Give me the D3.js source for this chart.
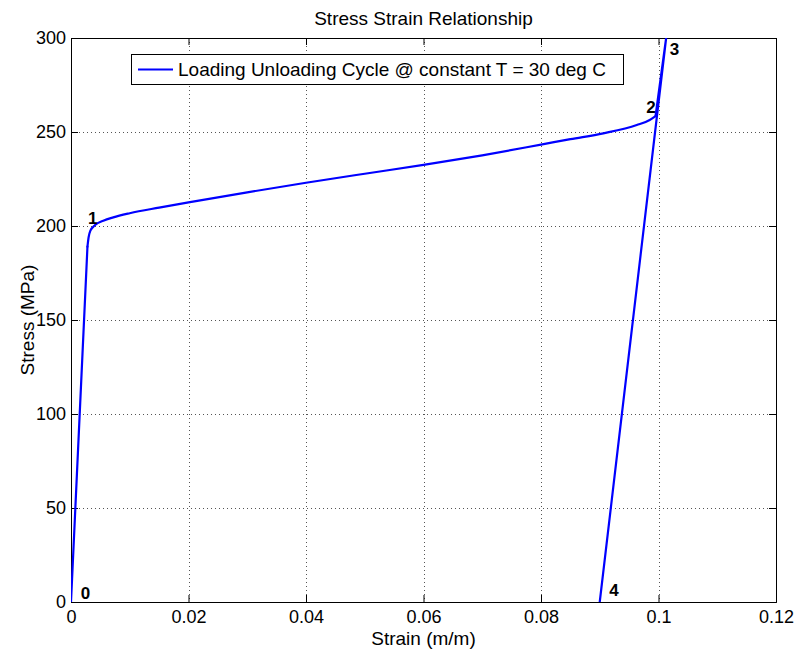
<!DOCTYPE html>
<html>
<head>
<meta charset="utf-8">
<script src="https://cdn.jsdelivr.net/npm/d3@7"></script>
<style>
  body { margin: 0; background: #fff; }
  svg { display: block; font-family: "Liberation Sans", Arial, Helvetica, sans-serif; }
</style>
</head>
<body>
<svg id="chart" width="796" height="654"></svg>
<script>
// elastic loading 0 -> 1 (straight)
const elasticLoadStrain = [0, 0.0028];
const elasticLoadStress = [0, 189];
// plateau 1 -> 2
const plateauStrain = [0.0028, 0.0030, 0.0033, 0.0041, 0.0055, 0.0072, 0.010, 0.015, 0.020, 0.030, 0.040, 0.050, 0.060, 0.070, 0.080, 0.085, 0.0906, 0.0963, 0.0985, 0.0995];
const plateauStress = [189, 194, 197.5, 200.5, 202.8, 204.6, 206.8, 209.8, 212.6, 217.9, 223.0, 227.8, 232.5, 237.6, 243.3, 246.2, 249.3, 253.7, 256.4, 258.5];
// elastic reload 2 -> 3 and unload 3 -> 4
const elasticStrain = [0.0995, 0.1013, 0.0900];
const elasticStress = [258.5, 300, 0];

const pointLabels = ['0', '1', '2', '3', '4'];
const labelStrain = [0.00165, 0.0029, 0.0979, 0.1019, 0.0916];
const labelStress = [4.5, 204, 263, 294, 6];

const xTicks = [0, 0.02, 0.04, 0.06, 0.08, 0.1, 0.12];
const yTicks = [0, 50, 100, 150, 200, 250, 300];

const titleText = 'Stress Strain Relationship';
const xLabel = 'Strain (m/m)';
const yLabel = 'Stress (MPa)';
const legendText = 'Loading Unloading Cycle @ constant T = 30 deg C';

const margin = {left: 71, right: 20, top: 38, bottom: 52};
const width = 796, height = 654;

let svg = d3.select('#chart');

let x = d3.scaleLinear().domain([0, 0.12]).range([margin.left, width - margin.right]);
let y = d3.scaleLinear().domain([0, 300]).range([height - margin.bottom, margin.top]);

const fmt = d => d === 0 ? '0' : String(+d.toFixed(2));

// grid
let grid = svg.append('g')
    .attr('stroke', '#555')
    .attr('stroke-width', 1)
    .attr('stroke-dasharray', '1,3');
grid.selectAll('.gx')
    .data(xTicks.slice(1, -1))
    .enter().append('line')
        .attr('x1', d => Math.round(x(d)) + 0.5).attr('x2', d => Math.round(x(d)) + 0.5)
        .attr('y1', y(300)).attr('y2', y(0));
grid.selectAll('.gy')
    .data(yTicks.slice(1, -1))
    .enter().append('line')
        .attr('y1', d => Math.round(y(d)) + 0.5).attr('y2', d => Math.round(y(d)) + 0.5)
        .attr('x1', x(0)).attr('x2', x(0.12));

// axes, ticks inside, on all four sides
let tickLen = 7;
svg.append('g')
    .attr('transform', `translate(0,${y(0)})`)
    .call(d3.axisBottom(x).tickValues(xTicks).tickSize(-tickLen).tickPadding(8).tickFormat(fmt));
svg.append('g')
    .attr('transform', `translate(0,${y(300)})`)
    .call(d3.axisTop(x).tickValues(xTicks).tickSize(-tickLen).tickFormat(''));
svg.append('g')
    .attr('transform', `translate(${x(0)},0)`)
    .call(d3.axisLeft(y).tickValues(yTicks).tickSize(-tickLen).tickPadding(5).tickFormat(d => d));
svg.append('g')
    .attr('transform', `translate(${x(0.12)},0)`)
    .call(d3.axisRight(y).tickValues(yTicks).tickSize(-tickLen).tickFormat(''));

svg.selectAll('.domain').attr('stroke', '#000');
svg.selectAll('.tick line').attr('stroke', '#000');
svg.selectAll('.tick text')
    .attr('font-family', '"Liberation Sans", Arial, sans-serif')
    .attr('font-size', 18)
    .attr('fill', '#000');

// curve
svg.append('clipPath').attr('id', 'plotclip')
    .append('rect')
        .attr('x', x(0)).attr('y', y(300))
        .attr('width', x(0.12) - x(0)).attr('height', y(0) - y(300));

let curve = svg.append('g')
    .attr('clip-path', 'url(#plotclip)')
    .attr('fill', 'none')
    .attr('stroke', '#0000ff')
    .attr('stroke-width', 2.2)
    .attr('stroke-linejoin', 'round')
    .attr('stroke-linecap', 'round');

let straight = (xs, ys) => d3.line()
    .x((d, i) => x(xs[i]))
    .y((d, i) => y(ys[i]));

curve.append('path')
    .datum(elasticLoadStrain)
    .attr('d', straight(elasticLoadStrain, elasticLoadStress));

curve.append('path')
    .datum(plateauStrain)
    .attr('d', straight(plateauStrain, plateauStress).curve(d3.curveMonotoneX));

curve.append('path')
    .datum(elasticStrain)
    .attr('d', straight(elasticStrain, elasticStress));

// point labels
svg.append('g')
    .selectAll('text')
    .data(pointLabels)
    .enter().append('text')
        .attr('x', (d, i) => x(labelStrain[i]))
        .attr('y', (d, i) => y(labelStress[i]))
        .attr('dominant-baseline', 'central')
        .attr('font-size', 17)
        .attr('font-weight', 'bold')
        .text(d => d);

// legend
let lg = svg.append('g').attr('transform', 'translate(131,54)');
lg.append('rect')
    .attr('x', 0.5).attr('y', 0.5)
    .attr('width', 492).attr('height', 30)
    .attr('fill', '#fff').attr('stroke', '#000').attr('stroke-width', 1);
lg.append('line')
    .attr('x1', 7).attr('x2', 42).attr('y1', 15.5).attr('y2', 15.5)
    .attr('stroke', '#0000ff').attr('stroke-width', 2.2);
lg.append('text')
    .attr('x', 47).attr('y', 22)
    .attr('font-size', 19)
    .text(legendText);

// titles
svg.append('text')
    .attr('x', (x(0) + x(0.12)) / 2).attr('y', 25)
    .attr('text-anchor', 'middle')
    .attr('font-size', 19)
    .text(titleText);
svg.append('text')
    .attr('x', (x(0) + x(0.12)) / 2).attr('y', 645)
    .attr('text-anchor', 'middle')
    .attr('font-size', 19)
    .text(xLabel);
svg.append('text')
    .attr('transform', `translate(34,${(y(0) + y(300)) / 2}) rotate(-90)`)
    .attr('text-anchor', 'middle')
    .attr('font-size', 19)
    .text(yLabel);
</script>
</body>
</html>
